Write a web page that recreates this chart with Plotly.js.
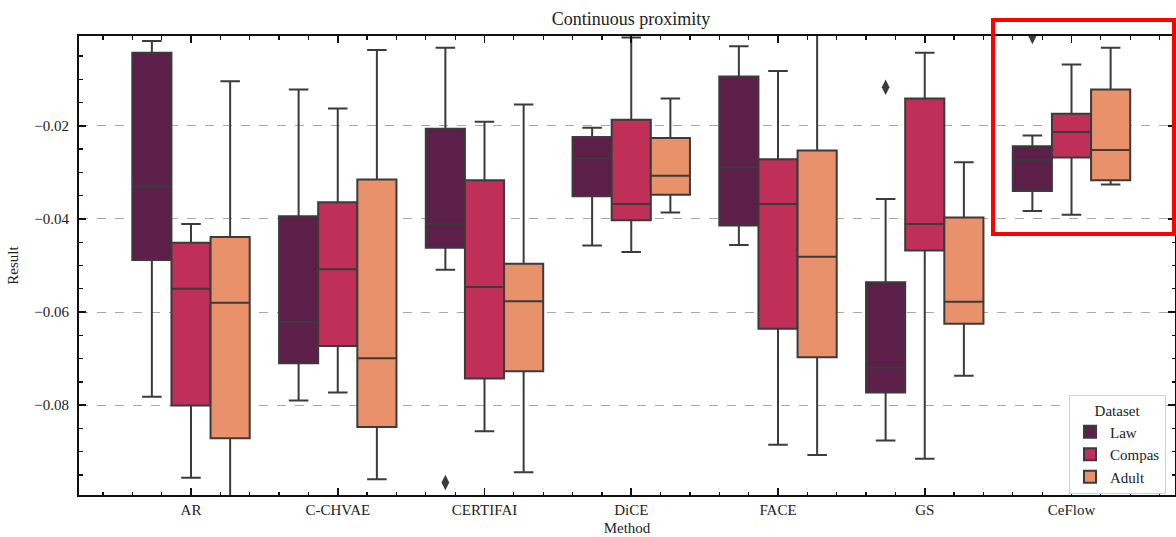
<!DOCTYPE html>
<html>
<head>
<meta charset="utf-8">
<script src="https://cdn.plot.ly/plotly-3.0.1.min.js"></script>
<style>html,body{margin:0;padding:0;background:#fff;}#chart{width:1176px;height:537px;}</style>
</head>
<body>
<div id="chart"></div>
<script>
const methods = ['AR','C-CHVAE','CERTIFAI','DiCE','FACE','GS','CeFlow'];
const datasets = ['Law','Compas','Adult'];
const colors = ['#5b1f4a','#bf2f58','#e8916b'];

const lawUpper  = [-0.0018,-0.0122,-0.0032,-0.0204,-0.0029,-0.0357,-0.0221];
const lawQ3     = [-0.0043,-0.0394,-0.0206,-0.0224,-0.0094,-0.0536,-0.0244];
const lawMed    = [-0.0331,-0.0621,-0.0411,-0.0270,-0.0289,-0.0719,-0.0274];
const lawQ1     = [-0.0488,-0.0710,-0.0462,-0.0351,-0.0414,-0.0773,-0.0340];
const lawLower  = [-0.0782,-0.0790,-0.0509,-0.0457,-0.0456,-0.0876,-0.0383];
const lawOutX   = ['CERTIFAI','GS','CeFlow'];
const lawOutY   = [-0.0966,-0.0117,-0.0008];

const compasUpper = [-0.0411,-0.0163,-0.0191,-0.0010,-0.0082,-0.0043,-0.0068];
const compasQ3    = [-0.0451,-0.0364,-0.0317,-0.0187,-0.0272,-0.0141,-0.0174];
const compasMed   = [-0.0550,-0.0508,-0.0546,-0.0368,-0.0368,-0.0411,-0.0213];
const compasQ1    = [-0.0801,-0.0673,-0.0743,-0.0403,-0.0636,-0.0468,-0.0268];
const compasLower = [-0.0956,-0.0773,-0.0856,-0.0471,-0.0885,-0.0915,-0.0391];
const compasOutX  = [];
const compasOutY  = [];

const adultUpper = [-0.0104,-0.0037,-0.0154,-0.0141,0.0005,-0.0278,-0.0032];
const adultQ3    = [-0.0439,-0.0315,-0.0496,-0.0226,-0.0253,-0.0397,-0.0122];
const adultMed   = [-0.0580,-0.0699,-0.0577,-0.0307,-0.0481,-0.0578,-0.0252];
const adultQ1    = [-0.0871,-0.0847,-0.0727,-0.0348,-0.0697,-0.0625,-0.0317];
const adultLower = [-0.1050,-0.0959,-0.0944,-0.0386,-0.0907,-0.0737,-0.0326];
const adultOutX  = [];
const adultOutY  = [];

const yTicks = [-0.02,-0.04,-0.06,-0.08];

const stats = [
  {up: lawUpper, q3: lawQ3, med: lawMed, q1: lawQ1, lo: lawLower, ox: lawOutX, oy: lawOutY},
  {up: compasUpper, q3: compasQ3, med: compasMed, q1: compasQ1, lo: compasLower, ox: compasOutX, oy: compasOutY},
  {up: adultUpper, q3: adultQ3, med: adultMed, q1: adultQ1, lo: adultLower, ox: adultOutX, oy: adultOutY}
];

const edge = '#3b3b3b';
const font = 'Liberation Serif, Times New Roman, serif';
const txt = '#222222';

const boxes = stats.map((s, k) => ({
  type: 'box',
  name: datasets[k],
  offsetgroup: datasets[k],
  x: methods,
  q1: s.q1, median: s.med, q3: s.q3,
  lowerfence: s.lo, upperfence: s.up,
  boxpoints: false,
  fillcolor: colors[k],
  line: {color: edge, width: 2},
  whiskerwidth: 0.5,
  hoverinfo: 'skip'
}));

const outliers = stats.map((s, k) => ({
  type: 'scatter', mode: 'markers',
  name: datasets[k] + ' outliers',
  offsetgroup: datasets[k],
  x: s.ox, y: s.oy,
  marker: {symbol: 'diamond-tall', size: 11, color: edge},
  showlegend: false, hoverinfo: 'skip'
}));

// empty helper trace so the minor-tick overlay axis is drawn
const tickHelper = {type: 'scatter', mode: 'markers', x: [], y: [], xaxis: 'x2', yaxis: 'y', showlegend: false, hoverinfo: 'skip'};

const L = 79, R = 1, T = 36, B = 42;
const W = 1176 - L - R, H = 537 - T - B;
const catPx = 146.75;
const x0 = -(191 - L) / catPx;
const xr = [x0, x0 + W / catPx];

const layout = {
  width: 1176, height: 537,
  margin: {l: L, r: R, t: T, b: B},
  paper_bgcolor: '#fff', plot_bgcolor: '#fff',
  font: {family: font, color: txt, size: 15},
  title: {text: 'Continuous proximity', font: {family: font, size: 18, color: txt},
          x: 631 / 1176, xanchor: 'center', y: 1 - 19 / 537, yanchor: 'middle'},
  boxmode: 'group', boxgap: 0.2, boxgroupgap: 0,
  scattermode: 'group', scattergap: 0.2,
  xaxis: {
    type: 'category', categoryorder: 'array', categoryarray: methods,
    range: xr, autorange: false,
    showline: true, linecolor: '#111', linewidth: 2, mirror: 'ticks',
    ticks: 'inside', ticklen: 7, tickwidth: 1.6, tickcolor: '#111',
    showgrid: false, zeroline: false, ticklabelstandoff: 0,
    tickfont: {family: font, size: 15, color: txt},
    title: {text: 'Method', font: {family: font, size: 15, color: txt}, standoff: 5}
  },
  xaxis2: {
    overlaying: 'x', anchor: 'y', side: 'bottom', type: 'linear', range: xr, autorange: false,
    dtick: 0.2, tick0: 0, ticks: 'inside', ticklen: 3.5, tickwidth: 1.3, tickcolor: '#111',
    showticklabels: false, showgrid: false, zeroline: false,
    showline: true, linecolor: '#111', linewidth: 2, mirror: 'ticks'
  },
  yaxis: {
    range: [-0.0993, -0.0007], autorange: false,
    tickvals: yTicks, ticktext: yTicks.map(v => '\u2212' + Math.abs(v).toFixed(2)),
    showline: true, linecolor: '#111', linewidth: 2, mirror: 'ticks',
    ticks: 'inside', ticklen: 7, tickwidth: 1.6, tickcolor: '#111',
    minor: {dtick: 0.005, tick0: 0, ticks: 'inside', ticklen: 3.5, tickwidth: 1.3, tickcolor: '#111', showgrid: false},
    showgrid: true, gridcolor: '#a8a8a8', gridwidth: 1, griddash: 'dash',
    zeroline: false, ticklabelstandoff: 5,
    tickfont: {family: font, size: 15, color: txt},
    title: {text: 'Result', font: {family: font, size: 15, color: txt}, standoff: 12}
  },
  legend: {
    x: (1069 - L) / W, y: (H + T - 395) / H, xanchor: 'left', yanchor: 'top',
    bgcolor: '#fff', bordercolor: '#d0d0d0', borderwidth: 1,
    font: {family: font, size: 15, color: txt},
    title: {text: 'Dataset', side: 'top center', font: {family: font, size: 15, color: txt}},
    tracegroupgap: 0
  },
  shapes: [{
    type: 'rect', xref: 'paper', yref: 'paper',
    x0: (993 - L) / W, x1: (1174 - L) / W,
    y0: (H + T - 234) / H, y1: (H + T - 20) / H,
    line: {color: '#ff0000', width: 4}, fillcolor: 'rgba(0,0,0,0)'
  }],
  showlegend: true
};

Plotly.newPlot('chart', boxes.concat(outliers, [tickHelper]), layout, {displayModeBar: false, staticPlot: true});
</script>
</body>
</html>
